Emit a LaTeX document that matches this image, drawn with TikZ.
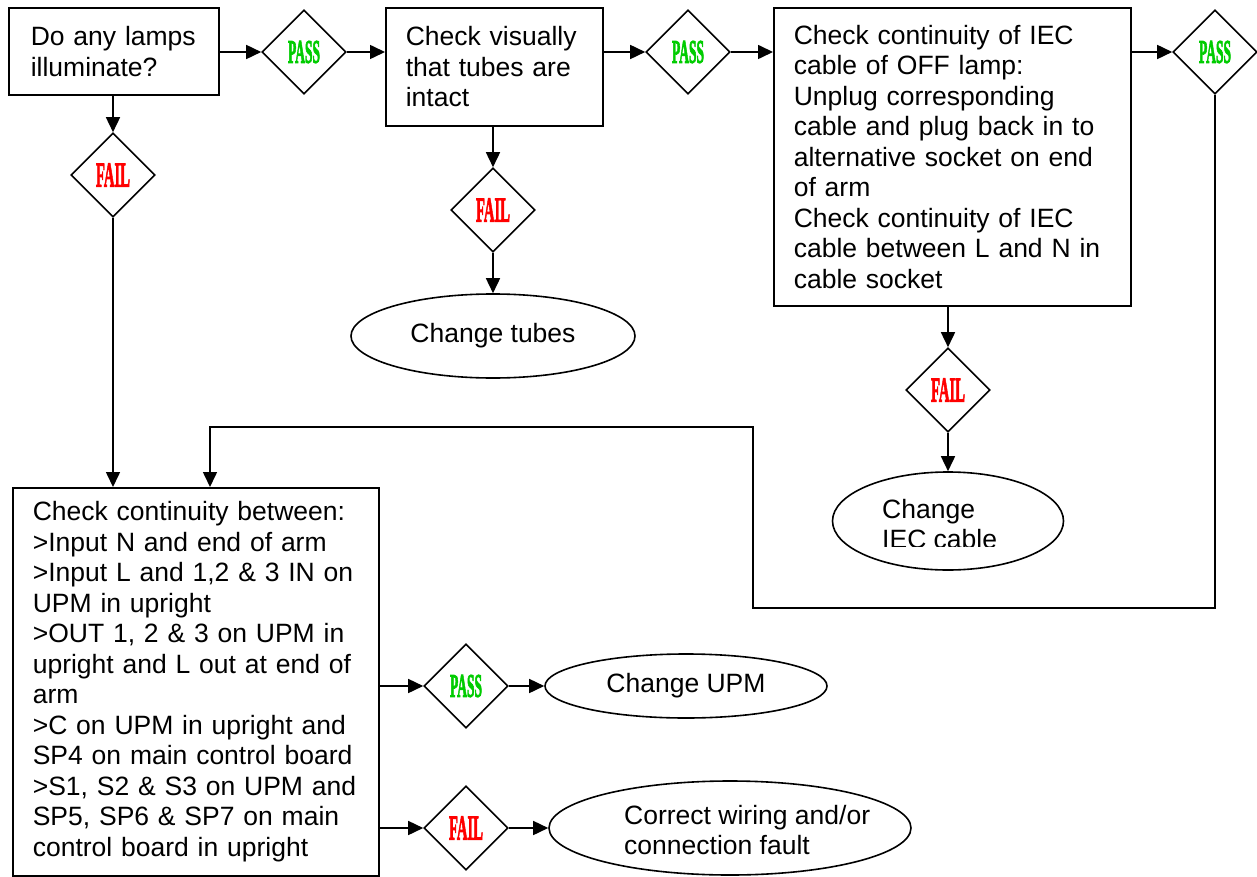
\documentclass[tikz,border=0pt]{standalone}
\usepackage{fontspec}
\setmainfont{Liberation Sans}
\newfontfamily\pfont{Liberation Serif}[BoldFeatures={FakeBold=3}]
\usepackage{graphicx}
\usetikzlibrary{shapes.geometric,arrows.meta}
\definecolor{passgreen}{RGB}{0,204,0}
\definecolor{failred}{RGB}{255,0,0}
\newcommand{\passlbl}{\textcolor{passgreen}{\resizebox{32pt}{22pt}{\pfont\bfseries\fontsize{32}{34}\selectfont PASS}}}
\newcommand{\faillbl}{\textcolor{failred}{\resizebox{34pt}{23pt}{\pfont\bfseries\fontsize{32}{34}\selectfont FAIL}}}
\tikzset{
  box/.style={draw, rectangle, anchor=north west, align=left, inner ysep=0pt, line width=1.6pt},
  dia/.style={draw, diamond, minimum width=84pt, minimum height=84pt, inner sep=0pt, line width=1.6pt, fill=white},
  oval/.style={draw, ellipse, inner sep=0pt, line width=1.6pt},
  plain/.style={inner sep=0pt, align=left},
  ln/.style={line width=1.6pt},
  arr/.style={line width=1.6pt, -{Triangle[length=15pt,width=14pt]}},
}
\begin{document}
\begin{tikzpicture}[x=1pt, y=-1pt, font=\fontsize{26.5}{30.5}\selectfont]
\useasboundingbox (0,0) rectangle (1257,877);
\fill[white] (0,0) rectangle (1257,877);

% boxes
\node[box, text width=166pt, inner xsep=22pt, minimum height=87pt] (b1) at (8,7) {Do any lamps\\illuminate?};
\node[box, text width=177pt, inner xsep=20pt, minimum height=118pt] (b2) at (385,7) {Check visually\\that tubes are\\intact};
\node[box, text width=317pt, inner xsep=20pt, minimum height=298pt] (b3) at (773,7) {Check continuity of IEC\\cable of OFF lamp:\\Unplug corresponding\\cable and plug back in to\\alternative socket on end\\of arm\\Check continuity of IEC\\cable between L and N in\\cable socket};
\node[box, text width=326pt, inner xsep=20pt, minimum height=388pt] (b4) at (12,487) {Check continuity between:\\>Input N and end of arm\\>Input L and 1,2 \& 3 IN on\\UPM in upright\\>OUT 1, 2 \& 3 on UPM in\\upright and L out at end of\\arm\\>C on UPM in upright and\\SP4 on main control board\\>S1, S2 \& S3 on UPM and\\SP5, SP6 \& SP7 on main\\control board in upright};

% diamonds
\node[dia] (p1) at (304,52) {\passlbl};
\node[dia] (p2) at (688,52) {\passlbl};
\node[dia] (p3) at (1215,52) {\passlbl};
\node[dia] (f1) at (113,175) {\faillbl};
\node[dia] (f2) at (493,210) {\faillbl};
\node[dia] (f3) at (948,390) {\faillbl};
\node[dia] (p4) at (466,686) {\passlbl};
\node[dia] (f5) at (466,828) {\faillbl};

% ellipses
\node[oval, minimum width=284pt, minimum height=84pt] (tubes) at (493,336) {Change tubes};
\node[oval, minimum width=282pt, minimum height=64pt] (upm) at (686,686) {Change UPM};
\node[oval, minimum width=231pt, minimum height=98pt] (iec) at (948,521) {};
\begin{scope}
\clip (840,470) rectangle (1060,546);
\node[plain, anchor=north west] (iect) at (882,499) {Change\\IEC cable};
\end{scope}
\node[oval, minimum width=362pt, minimum height=94pt] (wire) at (730,828) {};
\node[plain, anchor=west] (wiret) at (624,830) {Correct wiring and/or\\connection fault};

% return path coordinates
\coordinate (k1) at (1215,608);
\coordinate (k2) at (753,608);
\coordinate (k3) at (753,427);
\coordinate (k4) at (210,427);

% connectors
\draw[arr] (p1.west -| b1.east) -- (p1.west);
\draw[arr] (p1.east) -- (p1.east -| b2.west);
\draw[arr] (p2.west -| b2.east) -- (p2.west);
\draw[arr] (p2.east) -- (p2.east -| b3.west);
\draw[arr] (p3.west -| b3.east) -- (p3.west);
\draw[arr] (p3.south) -- (k1) -- (k2) -- (k3) -- (k4) -- (k4 |- b4.north);
\draw[arr] (b1.south -| f1) -- (f1.north);
\draw[arr] (f1.south) -- (f1.south |- b4.north);
\draw[arr] (b2.south -| f2) -- (f2.north);
\draw[arr] (f2.south) -- (tubes.north);
\draw[arr] (b3.south -| f3) -- (f3.north);
\draw[arr] (f3.south) -- (iec.north);
\draw[arr] (p4.west -| b4.east) -- (p4.west);
\draw[arr] (p4.east) -- (upm.west);
\draw[arr] (f5.west -| b4.east) -- (f5.west);
\draw[arr] (f5.east) -- (wire.west);
\end{tikzpicture}
\end{document}
